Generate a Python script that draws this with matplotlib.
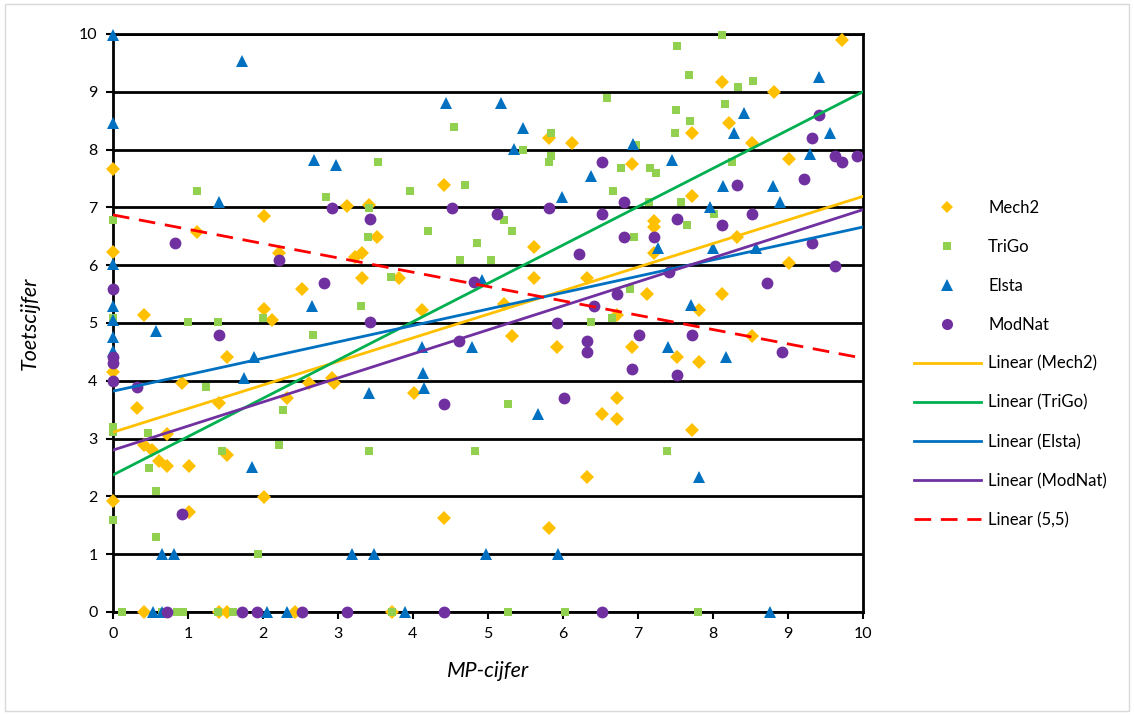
import matplotlib
matplotlib.use("Agg")
import matplotlib.pyplot as plt
from matplotlib.patches import Rectangle
from matplotlib.lines import Line2D
import numpy as np

plt.rcParams['font.family'] = ['Lato', 'DejaVu Sans']

# ---- data ----
mech2_x = [0, 0, 0, 0, 0.32, 0.41, 0.42, 0.52, 0.62, 0.72, 0.72, 0.92, 1.01, 1.01, 1.12, 1.41, 1.52, 1.52,
           2.01, 2.01, 2.01, 2.12, 2.21, 2.32, 2.52, 2.61, 2.92, 2.95, 3.12, 3.23, 3.32, 3.32, 3.41, 3.52,
           3.81, 4.01, 4.12, 4.41, 4.41, 5.21, 5.32, 5.61, 5.61, 5.81, 5.81, 5.92, 6.12, 6.32, 6.32, 6.52,
           6.72, 6.72, 6.72, 6.92, 6.92, 7.12, 7.21, 7.21, 7.21, 7.52, 7.72, 7.72, 7.72, 7.81, 7.81, 8.12,
           8.12, 8.21, 8.32, 8.52, 8.52, 8.81, 9.01, 9.01, 9.72,
           0.42, 1.41, 1.52, 2.43, 3.72]
mech2_y = [7.66, 6.22, 4.15, 1.92, 3.53, 5.14, 2.89, 2.80, 2.61, 3.08, 2.53, 3.96, 2.53, 1.73, 6.57, 3.62, 4.41, 2.72,
           6.85, 5.24, 1.99, 5.05, 6.21, 3.70, 5.59, 3.96, 4.05, 3.96, 7.02, 6.14, 6.21, 5.78, 7.04, 6.49,
           5.78, 3.79, 5.22, 7.39, 1.63, 5.33, 4.78, 6.31, 5.78, 8.20, 1.45, 4.59, 8.11, 5.78, 2.34, 3.43,
           5.14, 3.70, 3.34, 7.75, 4.59, 5.50, 6.76, 6.66, 6.21, 4.41, 8.29, 7.20, 3.15, 5.22, 4.32, 9.17,
           5.50, 8.46, 6.49, 8.11, 4.78, 9.00, 7.84, 6.04, 9.90,
           0, 0, 0, 0, 0]

trigo_x = [0, 0, 0, 0, 0, 0.47, 0.48, 0.57, 0.57, 1.00, 1.12, 1.24, 1.40, 1.45, 1.93, 2.00, 2.21, 2.27,
           2.67, 2.84, 3.31, 3.40, 3.41, 3.41, 3.53, 3.71, 3.96, 4.20, 4.55, 4.63, 4.69, 4.83, 4.85, 5.04,
           5.21, 5.27, 5.32, 5.47, 5.81, 5.84, 5.84, 6.37, 6.59, 6.65, 6.67, 6.78, 6.90, 6.95, 6.97, 7.15,
           7.16, 7.24, 7.39, 7.49, 7.51, 7.52, 7.57, 7.65, 7.68, 7.69, 8.01, 8.12, 8.16, 8.25, 8.33, 8.53,
           0.12, 0.65, 0.85, 0.93, 1.40, 1.60, 3.72, 5.27, 6.03, 7.80]
trigo_y = [6.78, 5.09, 3.20, 3.11, 1.59, 3.10, 2.49, 2.09, 1.30, 5.02, 7.28, 3.89, 5.02, 2.79, 1.00, 5.09, 2.89, 3.50,
           4.79, 7.18, 5.29, 6.49, 6.99, 2.79, 7.78, 5.80, 7.28, 6.59, 8.39, 6.09, 7.39, 2.79, 6.38, 6.09,
           6.78, 3.60, 6.59, 7.99, 7.78, 8.29, 7.89, 5.02, 8.89, 5.09, 7.28, 7.68, 5.59, 6.49, 8.08, 7.09,
           7.68, 7.59, 2.79, 8.29, 8.69, 9.79, 7.09, 6.70, 9.29, 8.49, 6.89, 9.98, 8.79, 7.79, 9.08, 9.19,
           0, 0, 0, 0, 0, 0, 0, 0, 0, 0]

elsta_x = [0, 0, 0, 0, 0, 0, 0, 0.57, 0.65, 0.81, 1.41, 1.72, 1.75, 1.85, 1.88, 2.65, 2.68, 2.97, 3.19,
           3.41, 3.48, 4.12, 4.13, 4.15, 4.44, 4.79, 4.92, 4.97, 5.17, 5.35, 5.47, 5.67, 5.93, 5.99, 6.37,
           6.93, 7.27, 7.40, 7.45, 7.71, 7.81, 7.96, 8.00, 8.13, 8.17, 8.28, 8.41, 8.58, 8.80, 8.89, 9.29,
           9.41, 9.56,
           0.53, 0.65, 2.05, 2.32, 3.89, 8.76]
elsta_y = [9.98, 8.46, 6.02, 5.29, 5.05, 4.76, 4.52, 4.86, 1.00, 1.00, 7.09, 9.53, 4.05, 2.51, 4.41, 5.29, 7.82, 7.73, 1.00,
           3.79, 1.00, 4.59, 4.13, 3.88, 8.80, 4.59, 5.74, 1.00, 8.80, 8.01, 8.37, 3.43, 1.00, 7.18, 7.54,
           8.10, 6.30, 4.59, 7.82, 5.31, 2.34, 7.01, 6.30, 7.37, 4.41, 8.29, 8.63, 6.30, 7.37, 7.09, 7.92,
           9.26, 8.29,
           0, 0, 0, 0, 0, 0]

modnat_x = [0, 0, 0, 0, 0.32, 0.83, 0.92, 1.41, 2.21, 2.81, 2.92, 3.43, 3.43, 4.41, 4.52, 4.61, 4.81, 5.12,
            5.81, 5.92, 6.01, 6.21, 6.32, 6.32, 6.41, 6.52, 6.52, 6.72, 6.82, 6.82, 6.92, 7.01, 7.21, 7.41,
            7.52, 7.52, 7.72, 8.12, 8.32, 8.52, 8.72, 8.92, 9.21, 9.32, 9.32, 9.41, 9.63, 9.63, 9.72, 9.92,
            0.72, 1.72, 1.92, 2.52, 3.12, 4.41, 6.52]
modnat_y = [5.59, 4.41, 4.31, 4.00, 3.89, 6.38, 1.70, 4.79, 6.09, 5.69, 6.99, 6.80, 5.02, 3.60, 6.99, 4.69, 5.71, 6.89,
            6.99, 5.00, 3.70, 6.19, 4.69, 4.50, 5.29, 7.78, 6.89, 5.50, 7.09, 6.49, 4.20, 4.79, 6.49, 5.88,
            6.80, 4.10, 4.79, 6.70, 7.39, 6.89, 5.69, 4.50, 7.49, 8.20, 6.38, 8.60, 7.89, 5.99, 7.79, 7.89,
            0, 0, 0, 0, 0, 0, 0]

# trend lines (intercept, slope) as shown in the chart
trend_names = ['Linear (Mech2)', 'Linear (TriGo)', 'Linear (Elsta)', 'Linear (ModNat)', 'Linear (5,5)']
trend_intercept = [3.11, 2.37, 3.82, 2.80, 6.87]
trend_slope = [0.408, 0.663, 0.284, 0.416, -0.248]

x_ticks = list(range(0, 11))
y_ticks = list(range(0, 11))

# ---- styling ----
c_mech = '#FFC000'
c_trigo = '#92D050'
c_elsta = '#0070C0'
c_modnat = '#7030A0'
trend_colors = ['#FFC000', '#00B050', '#0070C0', '#7030A0', '#FF0000']
trend_styles = ['-', '-', '-', '-', (0, (6, 3.5))]

fig = plt.figure(figsize=(11.34, 7.15), dpi=100)
ax = fig.add_axes([0.0996, 0.1441, 0.6614, 0.8084])

ax.set_xlim(0, 10)
ax.set_ylim(0, 10)
ax.set_xticks(x_ticks)
ax.set_yticks(y_ticks)
ax.yaxis.grid(True, color='black', lw=2)
ax.set_axisbelow(True)
for s in ax.spines.values():
    s.set_color('black')
    s.set_linewidth(2)
ax.tick_params(axis='both', direction='out', length=5, width=1.5, color='black',
               labelsize=11.5, pad=6)

ms = dict(linestyle='none', clip_on=False, zorder=3, markeredgewidth=0)
h1, = ax.plot(mech2_x, mech2_y, marker='D', markersize=7, color=c_mech, label='Mech2', **ms)
h2, = ax.plot(trigo_x, trigo_y, marker='s', markersize=6.2, color=c_trigo, label='TriGo', **ms)
h3, = ax.plot(elsta_x, elsta_y, marker='^', markersize=8.5, color=c_elsta, label='Elsta', **ms)
h4, = ax.plot(modnat_x, modnat_y, marker='o', markersize=8.5, color=c_modnat, label='ModNat', **ms)

xs = np.array([0, 10])
line_handles = []
for name, b, m, c, ls in zip(trend_names, trend_intercept, trend_slope, trend_colors, trend_styles):
    lh, = ax.plot(xs, b + m * xs, color=c, lw=2, linestyle=ls, label=name, zorder=4)
    line_handles.append(lh)

ax.set_xlabel('MP-cijfer', fontsize=15.5, style='italic', labelpad=14)
ax.set_ylabel('Toetscijfer', fontsize=15.5, style='italic', labelpad=28)

handles = [
    Line2D([], [], marker='D', markersize=6.5, color=c_mech, linestyle='none', markeredgewidth=0),
    Line2D([], [], marker='s', markersize=6, color=c_trigo, linestyle='none', markeredgewidth=0),
    Line2D([], [], marker='^', markersize=8, color=c_elsta, linestyle='none', markeredgewidth=0),
    Line2D([], [], marker='o', markersize=8, color=c_modnat, linestyle='none', markeredgewidth=0),
] + line_handles
labels = ['Mech2', 'TriGo', 'Elsta', 'ModNat'] + trend_names
fig.legend(handles, labels, loc='center left', bbox_to_anchor=(0.806, 0.491),
           frameon=False, fontsize=12, handlelength=4.0, handletextpad=0.45,
           labelspacing=1.38, borderpad=0, borderaxespad=0, numpoints=1)

fig.patches.append(Rectangle((0.004, 0.006), 0.992, 0.988, transform=fig.transFigure,
                             fill=False, edgecolor='#d9d9d9', lw=1))

fig.savefig('out.png', dpi=100)
